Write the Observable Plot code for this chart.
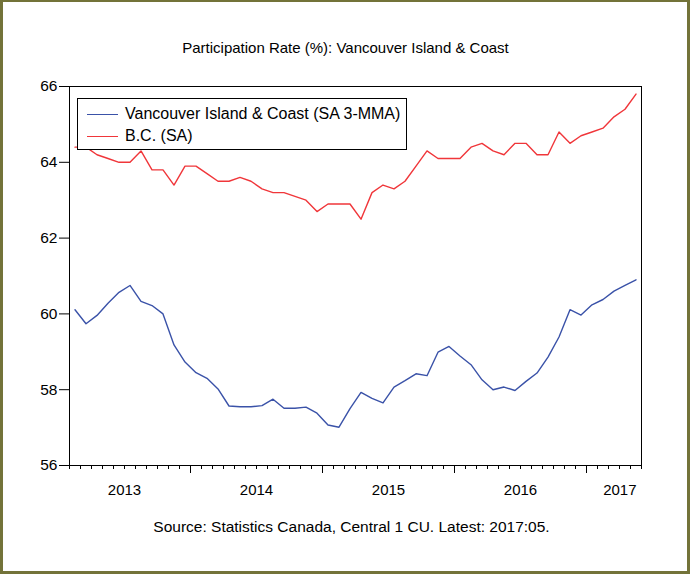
<!DOCTYPE html>
<html><head><meta charset="utf-8">
<script src="https://cdn.jsdelivr.net/npm/d3@7"></script>
<script src="https://cdn.jsdelivr.net/npm/@observablehq/plot@0.6"></script>
<style>
body{margin:0;background:#fff;}
#wrap{position:relative;width:691px;height:579px;overflow:hidden;font-family:"Liberation Sans",Arial,sans-serif;color:#000;background:#fff;}
#border{position:absolute;left:0;top:0;width:690px;height:574px;box-sizing:border-box;border:3px solid #737339;border-top-width:2px;pointer-events:none;}
#title{position:absolute;left:0;top:40px;width:691px;text-align:center;font-size:15px;line-height:15px;white-space:nowrap;}
#caption{position:absolute;left:0;top:519px;width:703px;text-align:center;font-size:15.5px;line-height:15px;white-space:nowrap;}
#chart{position:absolute;left:0;top:0;}
#legend{position:absolute;left:77px;top:98px;width:330px;height:52px;box-sizing:border-box;border:1px solid #000;background:#fff;}
.lg-line{position:absolute;left:9px;width:31px;height:0;border-top:1.5px solid;}
.lg-text{position:absolute;left:47px;font-size:16px;line-height:16px;white-space:nowrap;}
</style>
</head><body>
<div id="wrap">
  <div id="chart"></div>
  <div id="title"></div>
  <div id="legend"></div>
  <div id="caption"></div>
  <div id="border"></div>
</div>
<script>
// ---- data ----
const titleText = "Participation Rate (%): Vancouver Island & Coast";
const captionText = "Source: Statistics Canada, Central 1 CU. Latest: 2017:05.";
const seriesNames = ["Vancouver Island & Coast (SA 3-MMA)", "B.C. (SA)"];
const seriesColors = ["#3a52a8", "#f0363a"];
const startMonth = "2013-02";
const endMonth = "2017-05";
const vicValues = [
  60.11, 59.74, 59.96, 60.28, 60.57, 60.75, 60.33, 60.22, 60.00, 59.18, 58.73,
  58.45, 58.30, 58.02, 57.57, 57.55, 57.55, 57.58, 57.75, 57.51, 57.51, 57.54, 57.38,
  57.07, 57.01, 57.50, 57.93, 57.77, 57.65, 58.07, 58.24, 58.42, 58.37, 58.99, 59.14,
  58.89, 58.66, 58.26, 58.00, 58.07, 57.98, 58.22, 58.44, 58.86, 59.39, 60.11, 59.97,
  60.24, 60.38, 60.60, 60.75, 60.90
];
const bcValues = [
  64.4, 64.4, 64.2, 64.1, 64.0, 64.0, 64.3, 63.8, 63.8, 63.4, 63.9,
  63.9, 63.7, 63.5, 63.5, 63.6, 63.5, 63.3, 63.2, 63.2, 63.1, 63.0, 62.7,
  62.9, 62.9, 62.9, 62.5, 63.2, 63.4, 63.3, 63.5, 63.9, 64.3, 64.1, 64.1,
  64.1, 64.4, 64.5, 64.3, 64.2, 64.5, 64.5, 64.2, 64.2, 64.8, 64.5, 64.7,
  64.8, 64.9, 65.2, 65.4, 65.8
];
const yTicks = [56, 58, 60, 62, 64, 66];
const yearLabels = ["2013", "2014", "2015", "2016", "2017"];

// ---- derived ----
const parse = d3.utcParse("%Y-%m");
const start = parse(startMonth);
const months = d3.utcMonth.range(start, d3.utcMonth.offset(parse(endMonth), 1));
const rows = months.map((m, i) => ({i, month: m, vic: vicValues[i], bc: bcValues[i]}));
const xMax = months.length - 0.5;
const boundaries = d3.range(months.length + 1).map(i => i - 0.5);
const majorBounds = boundaries.filter(b => {
  const k = b + 0.5;
  return k > 0 && k < months.length && months[k].getUTCMonth() === 0;
});
const yearPos = yearLabels.map(y => {
  const jan = d3.utcMonth.count(start, parse(y + "-01"));
  return {label: y, x: jan + 5.5};
});
const inside = yearPos.filter(d => d.x <= xMax);
const outside = yearPos.filter(d => d.x > xMax).map(d => ({label: d.label, x: xMax}));

const font = '"Liberation Sans", Arial, sans-serif';
const chart = Plot.plot({
  width: 691, height: 579,
  marginLeft: 69, marginRight: 50, marginTop: 86, marginBottom: 114,
  x: {domain: [-0.5, xMax], axis: null},
  y: {domain: [56, 66], axis: null},
  style: {fontFamily: font, fontSize: "15px", background: "transparent", color: "#000"},
  marks: [
    Plot.line(rows, {x: "i", y: "bc", stroke: seriesColors[1], strokeWidth: 1.4}),
    Plot.line(rows, {x: "i", y: "vic", stroke: seriesColors[0], strokeWidth: 1.4}),
    Plot.frame({stroke: "#000", strokeWidth: 1}),
    Plot.axisY(yTicks, {tickSize: 10, tickPadding: 2, fontSize: 15.5, label: null, stroke: "#000"}),
    Plot.axisX(boundaries, {tickSize: 4, tickFormat: () => "", label: null, stroke: "#000"}),
    Plot.axisX(majorBounds, {tickSize: 8, tickFormat: () => "", label: null, stroke: "#000"}),
    Plot.text(inside, {x: "x", text: "label", frameAnchor: "bottom", dy: 25, lineAnchor: "middle", fontSize: 15, fill: "#000"}),
    Plot.text(outside, {x: "x", text: "label", frameAnchor: "bottom", dy: 25, dx: -5, lineAnchor: "middle", textAnchor: "end", fontSize: 15, fill: "#000"})
  ]
});
document.getElementById("chart").appendChild(chart);
document.getElementById("title").textContent = titleText;
document.getElementById("caption").textContent = captionText;
const legend = document.getElementById("legend");
seriesNames.forEach((name, k) => {
  const line = document.createElement("div");
  line.className = "lg-line";
  line.style.borderTopColor = seriesColors[k];
  line.style.top = (15 + k * 21.5) + "px";
  legend.appendChild(line);
  const t = document.createElement("div");
  t.className = "lg-text";
  t.style.top = (7 + k * 21.5) + "px";
  t.textContent = name;
  legend.appendChild(t);
});
</script>
</body></html>
